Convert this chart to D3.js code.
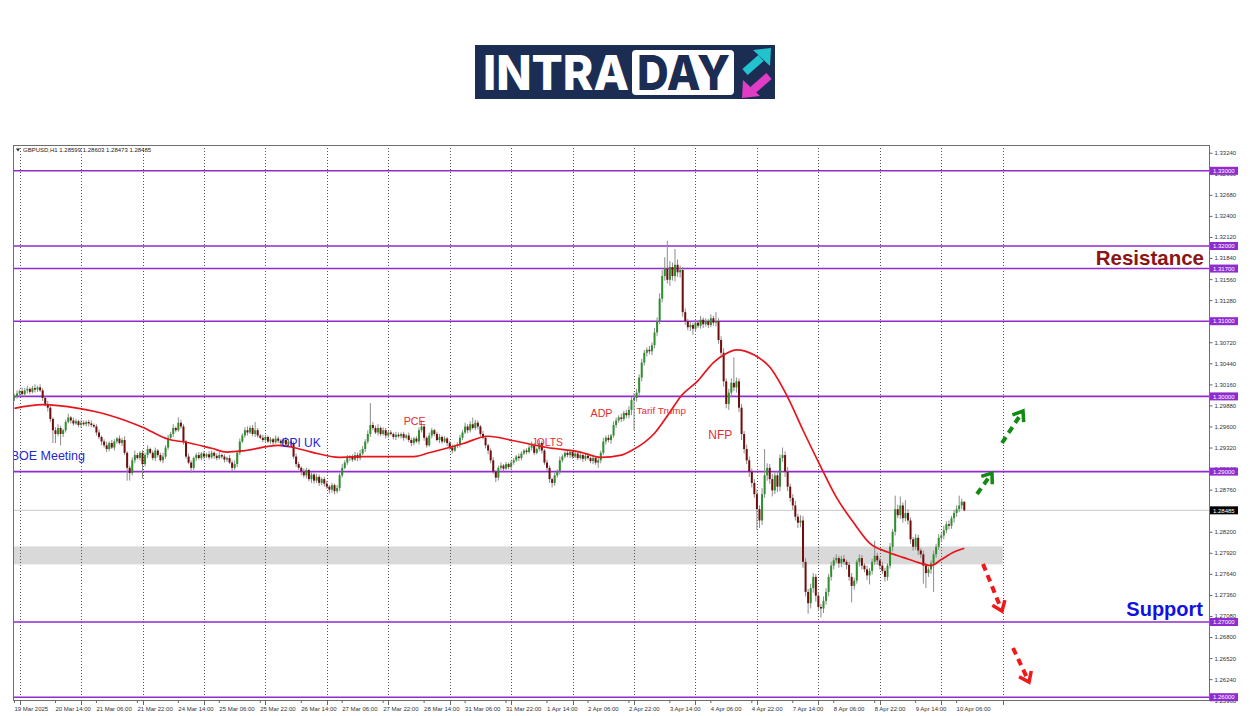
<!DOCTYPE html>
<html><head><meta charset="utf-8">
<script src="https://cdn.jsdelivr.net/npm/d3@7"></script>
<style>html,body{margin:0;padding:0;background:#fff;}svg{display:block;}</style>
</head><body>
<svg id="chart" width="1250" height="716"></svg>
<script>
// ---------------- DATA ----------------
const closes = [
1.3000,1.3004,1.3007,1.3003,1.3008,1.3010,1.3006,1.3011,1.3009,1.3012,1.3008,
1.2998,1.2990,1.2985,
1.2970,1.2955,1.2950,
1.2958,1.2950,1.2955,
1.2966,1.2972,1.2968,
1.2964,1.2967,1.2962,1.2965,1.2963,1.2966,1.2964,1.2962,1.2960,
1.2952,1.2946,1.2940,
1.2935,1.2930,1.2938,1.2932,
1.2940,1.2944,1.2938,1.2942,
1.2925,1.2905,1.2898,
1.2915,1.2922,1.2918,1.2925,1.2910,
1.2922,1.2930,1.2925,1.2918,1.2928,1.2922,1.2915,1.2920,
1.2932,1.2945,1.2950,1.2958,1.2955,1.2965,1.2960,
1.2940,
1.2920,1.2912,1.2905,1.2918,
1.2922,1.2918,1.2924,1.2920,1.2923,1.2919,1.2925,1.2921,1.2918,1.2922,1.2920,1.2916,1.2918,
1.2912,1.2905,1.2910,
1.2925,1.2940,1.2948,
1.2955,1.2952,1.2958,1.2950,1.2955,1.2948,
1.2945,1.2942,1.2946,1.2940,1.2943,1.2939,1.2944,1.2941,
1.2938,1.2942,1.2936,1.2940,1.2938,
1.2920,1.2910,1.2905,
1.2900,1.2895,1.2902,1.2890,1.2896,1.2888,1.2893,1.2885,1.2890,1.2884,
1.2880,1.2876,1.2882,1.2874,1.2878,
1.2895,1.2905,1.2912,1.2918,
1.2920,1.2916,1.2922,1.2918,1.2924,
1.2930,1.2940,1.2950,1.2962,1.2958,
1.2952,1.2958,1.2950,1.2955,1.2948,1.2952,
1.2950,1.2946,1.2949,1.2947,1.2950,1.2945,1.2948,
1.2942,1.2938,1.2944,1.2940,
1.2955,1.2960,
1.2945,1.2935,
1.2948,1.2955,1.2950,1.2942,
1.2946,1.2940,1.2944,1.2938,
1.2932,1.2928,1.2934,1.2936,
1.2945,1.2952,1.2960,1.2955,1.2963,1.2958,1.2965,1.2960,
1.2950,1.2945,1.2935,1.2928,
1.2915,1.2900,1.2892,1.2905,
1.2908,1.2904,1.2910,1.2906,1.2912,
1.2915,1.2920,1.2918,1.2924,1.2928,1.2926,1.2932,
1.2935,1.2925,1.2930,1.2938,1.2928,
1.2912,1.2905,1.2890,1.2885,1.2895,1.2900,
1.2915,1.2920,1.2925,1.2922,1.2926,
1.2920,1.2924,1.2918,1.2922,1.2917,1.2921,1.2918,1.2914,1.2918,1.2912,1.2915,
1.2925,1.2940,1.2945,1.2942,1.2948,1.2962,1.2968,
1.2972,1.2970,1.2978,1.2975,1.2982,
1.2995,1.2998,1.3005,
1.3025,1.3045,
1.3058,1.3062,1.3060,1.3068,
1.3085,1.3100,
1.3130,1.3160,
1.3170,1.3155,1.3172,1.3160,1.3175,1.3165,1.3168,
1.3112,
1.3100,1.3092,1.3095,1.3090,
1.3098,1.3094,1.3102,1.3096,1.3100,1.3095,1.3104,1.3098,1.3100,
1.3075,1.3058,
1.3020,1.2990,
1.3005,1.3018,1.3012,1.3020,
1.2985,1.2950,
1.2930,1.2915,1.2900,1.2885,
1.2870,1.2850,1.2835,
1.2870,1.2895,1.2905,
1.2890,1.2875,1.2895,1.2880,
1.2918,1.2922,
1.2900,1.2880,
1.2865,1.2855,1.2840,1.2832,1.2835,
1.2780,
1.2740,1.2725,
1.2745,1.2760,1.2735,1.2720,
1.2718,1.2728,
1.2740,1.2760,1.2775,
1.2782,1.2785,1.2778,1.2784,1.2780,1.2776,
1.2760,1.2748,1.2755,
1.2780,1.2785,1.2775,1.2770,
1.2762,1.2768,
1.2780,1.2788,1.2782,1.2775,
1.2768,1.2760,1.2775,
1.2800,1.2820,
1.2850,1.2842,1.2855,
1.2838,1.2845,1.2835,
1.2810,1.2800,1.2812,
1.2795,1.2790,1.2775,
1.2765,1.2770,1.2778,
1.2790,1.2800,1.2812,
1.2815,1.2822,1.2830,1.2828,1.2838,1.2845,
1.2850,1.2855,1.2860,
1.28485
];
// upper / lower wick lengths in pips
const wickUp = [
3,4,2,5,3,4,2,3,5,2, 4,3,2,4,3,2,4,5,3,2,
3,5,2,4,3,2,4,3,2,3, 4,2,3,4,2,3,5,2,4,3,
2,4,3,5,2,3,4,6,3,2, 4,3,5,2,3,4,2,3,5,3,
4,3,5,2,7,4,3,2,4,3, 2,3,4,2,3,2,4,3,2,3,
4,2,3,2,4,3,5,3,4,3, 4,5,3,4,11,3,2,4,3,2,
3,2,4,3,2,3,4,2,3,2, 4,3,2,4,3,2,3,2,4,3,
2,3,4,2,3,2,4,3,5,3, 4,2,3,4,3,5,4,3,5,29,
4,3,5,2,4,3,2,3,2,4, 3,2,3,2,4,3,2,3,4,8,
3,2,4,3,2,3,4,2,3,2, 3,4,2,3,4,3,5,3,4,9,
4,3,2,4,3,2,3,4,2,3, 4,2,3,2,4,3,2,4,3,2,
3,4,5,3,2,4,3,2,4,3, 2,4,3,5,3,2,4,3,2,3,
2,3,2,4,3,2,3,2,4,3, 5,3,4,2,5,4,3,5,3,4,
5,4,6,5,4,5,4,3,5,4, 6,5,7,8,15,37,8,6,21,7,
6,4,5,3,4,3,4,3,5,3, 4,3,5,3,12,4,5,6,4,5,
6,34,5,4,5,4,6,5,4,5, 6,5,8,35,6,5,7,5,6,5,
10,5,6,4,5,6,4,7,6,5, 4,6,5,4,5,4,6,5,4,5,
4,5,3,4,5,3,4,5,4,3, 5,4,3,5,4,4,20,4,3,5,
4,3,5,4,18,6,12,4,17,5, 4,3,5,4,3,5,4,3,4,5,
4,5,3,6,4,5,3,4,5,13,4,0
];
const wickDn = [
4,3,5,2,3,4,3,2,4,3, 2,4,3,5,4,17,12,3,15,4,
3,2,4,3,2,3,4,2,3,4, 3,2,4,3,5,3,4,3,2,4,
3,2,4,3,17,10,3,4,2,3, 19,3,4,2,3,4,3,2,4,3,
3,2,4,3,2,3,4,3,2,7, 3,4,2,3,4,2,3,2,4,3,
2,3,4,3,2,5,3,4,3,2, 3,4,2,3,4,3,2,3,4,2,
3,4,2,3,4,3,2,3,4,3, 4,3,5,3,4,3,5,4,3,4,
3,4,3,5,4,4,3,4,3,2, 3,4,3,2,4,3,2,4,3,4,
3,2,4,3,2,4,3,2,3,4, 2,3,4,2,3,4,3,2,4,3,
4,3,2,4,3,2,4,3,2,4, 3,4,2,3,4,3,2,4,3,2,
3,4,3,2,4,5,4,3,6,4, 3,4,2,3,4,3,2,4,3,2,
3,2,4,3,2,3,4,3,4,5, 6,4,3,4,3,2,3,4,3,2,
3,2,4,3,2,3,4,3,7,4, 3,4,3,5,3,4,3,4,3,4,
4,7,40,5,4,5,4,5,4,5, 4,5,4,5,6,5,8,6,7,6,
7,6,5,4,5,8,4,3,4,5, 3,4,3,4,5,5,6,7,6,8,
6,5,7,6,8,6,5,7,6,5, 28,10,6,5,7,6,8,5,7,6,
5,7,6,5,6,5,7,6,8,6, 14,7,6,8,5,12,6,5,6,5,
5,4,6,5,4,6,5,22,5,4, 6,5,4,6,12,5,4,6,5,4,
6,5,4,6,5,4,5,6,4,5, 6,5,4,6,5,24,20,5,6,38,
5,4,6,5,4,5,4,6,5,4,5,0
];
const firstOpen = 1.2998;
const lastOHLC = [1.28599, 1.28603, 1.28473, 1.28485];

// moving average (red line) read at sample bars
const maBars = [0,11,25,37,50,60,67,77,83,90,103,109,116,127,136,156,162,175,185,195,208,221,229,237,241,250,256,260,267,273,278,282,289,295,302,308,315,321,328,334,341,347,354,358,362,367,371];
const maValues = [1.2984,1.2989,1.2984,1.2975,1.2959,1.2943,1.2939,1.2931,1.2926,1.2928,1.2935,1.2932,1.2926,1.2919,1.2920,1.2920,1.2925,1.2937,1.2947,1.2941,1.2932,1.2926,1.2919,1.2922,1.2928,1.2951,1.2979,1.2999,1.3021,1.3045,1.3057,1.3062,1.3055,1.3039,1.2999,1.2955,1.2906,1.2866,1.2831,1.2805,1.2793,1.2786,1.2778,1.2775,1.2783,1.2793,1.2798];

const levels = [1.33, 1.32, 1.317, 1.31, 1.30, 1.29, 1.27, 1.26];
const levelLabels = ["1.33000","1.32000","1.31700","1.31000","1.30000","1.29000","1.27000","1.26000"];
const currentPrice = 1.28485;
const zoneLow = 1.27766, zoneHigh = 1.28005;

const timeLabels = ["19 Mar 2025","20 Mar 14:00","21 Mar 06:00","21 Mar 22:00","24 Mar 14:00","25 Mar 06:00","25 Mar 22:00","26 Mar 14:00","27 Mar 06:00","27 Mar 22:00","28 Mar 14:00","31 Mar 06:00","31 Mar 22:00","1 Apr 14:00","2 Apr 06:00","2 Apr 22:00","3 Apr 14:00","4 Apr 06:00","4 Apr 22:00","7 Apr 14:00","8 Apr 06:00","8 Apr 22:00","9 Apr 14:00","10 Apr 06:00"];
const yTicks = [1.33240,1.32960,1.32680,1.32400,1.32120,1.31840,1.31560,1.31280,1.31000,1.30720,1.30440,1.30160,1.29880,1.29600,1.29320,1.29040,1.28760,1.28480,1.28200,1.27920,1.27640,1.27360,1.27080,1.26800,1.26520,1.26240,1.25960];

const eventNames = ["BOE Meeting","CPI UK","PCE","JOLTS","ADP","Tarif Trump","NFP"];
const eventBars = [-1.5, 104, 152, 202, 225, 243, 271];
const eventPrices = [1.2915, 1.2933, 1.2962, 1.2934, 1.2973, 1.2976, 1.2943];
const eventColors = ["#2626d6","#2626d6","#e62e2e","#e62e2e","#e62e2e","#e62e2e","#e62e2e"];
const eventSizes = [12.5, 12, 10.7, 10.3, 10.7, 9.9, 12];

// ---------------- LAYOUT ----------------
const svg = d3.select("#chart");
const L = 13, R = 1209, T = 145, B = 700;
const N = closes.length;
const x = d3.scaleLinear().domain([0, 371]).range([14.5, 964.3]);
const y = d3.scaleLinear().domain([1.26, 1.33]).range([697.2, 170.8]);
const pip = 0.0001;

svg.append("rect").attr("width",1250).attr("height",716).attr("fill","#fff");

// ---------- logo ----------
const lg = svg.append("g");
lg.append("rect").attr("x",475).attr("y",45).attr("width",300).attr("height",54).attr("fill","#1b2d53");
lg.append("text").attr("x",483).attr("y",90).text("INTRA")
  .attr("fill","#fff").attr("font-family","Inter, 'Liberation Sans', sans-serif").attr("font-weight",800)
  .attr("font-size",48).attr("textLength",146).attr("lengthAdjust","spacingAndGlyphs");
lg.append("rect").attr("x",632).attr("y",50).attr("width",102).attr("height",45).attr("rx",4).attr("fill","#fff");
lg.append("text").attr("x",637).attr("y",90).text("DAY")
  .attr("fill","#1b2d53").attr("font-family","Inter, 'Liberation Sans', sans-serif").attr("font-weight",800)
  .attr("font-size",48).attr("textLength",93).attr("lengthAdjust","spacingAndGlyphs");
lg.append("line").attr("x1",745).attr("y1",72).attr("x2",761).attr("y2",58).attr("stroke","#22c3cf").attr("stroke-width",8);
lg.append("path").attr("d","M771,48 L770,66 L753,50 Z").attr("fill","#22c3cf");
lg.append("line").attr("x1",769).attr("y1",76).attr("x2",753).attr("y2",90).attr("stroke","#e03cc6").attr("stroke-width",8);
lg.append("path").attr("d","M742,98 L743,80 L760,96 Z").attr("fill","#e03cc6");

// ---------- plot area ----------
svg.append("defs").append("clipPath").attr("id","plotclip")
  .append("rect").attr("x",L).attr("y",T).attr("width",R-L).attr("height",B-T);
const plot = svg.append("g").attr("clip-path","url(#plotclip)");

// support zone
plot.append("rect").attr("x",L).attr("y",y(zoneHigh)).attr("width",x(386)-L).attr("height",y(zoneLow)-y(zoneHigh)).attr("fill","#d9d9d9");

// vertical dotted grid
const gridBars = d3.range(2, 400, 24);
plot.selectAll("line.vg").data(gridBars).join("line").attr("class","vg")
  .attr("x1",d=>Math.round(x(d))+0.5).attr("x2",d=>Math.round(x(d))+0.5).attr("y1",T).attr("y2",B)
  .attr("stroke","#555").attr("stroke-width",1).attr("stroke-dasharray","1,2");

// current price line
plot.append("line").attr("x1",L).attr("x2",R).attr("y1",y(currentPrice)).attr("y2",y(currentPrice)).attr("stroke","#c8c8c8").attr("stroke-width",1);

// level lines
plot.selectAll("line.lvl").data(levels).join("line").attr("class","lvl")
  .attr("x1",L).attr("x2",R).attr("y1",d=>y(d)).attr("y2",d=>y(d))
  .attr("stroke","#8f2bcf").attr("stroke-width",1.6);

// candles
const candles = closes.map((c,i)=>{
  let o = i===0 ? firstOpen : closes[i-1];
  let h = Math.max(o,c) + (wickUp[i]||0)*pip;
  let l = Math.min(o,c) - (wickDn[i]||0)*pip;
  if (i===N-1) { o = lastOHLC[0]; h = lastOHLC[1]; l = lastOHLC[2]; c = lastOHLC[3]; }
  return {i,o,h,l,c};
});
const cg = plot.append("g");
cg.selectAll("line.wick").data(candles).join("line").attr("class","wick")
  .attr("x1",d=>x(d.i)).attr("x2",d=>x(d.i)).attr("y1",d=>y(d.h)).attr("y2",d=>y(d.l))
  .attr("stroke","#8c8c8c").attr("stroke-width",1);
cg.selectAll("rect.body").data(candles).join("rect").attr("class","body")
  .attr("x",d=>x(d.i)-1).attr("width",2)
  .attr("y",d=>y(Math.max(d.o,d.c)))
  .attr("height",d=>Math.max(1, Math.abs(y(d.o)-y(d.c))))
  .attr("fill",d=>d.c>=d.o ? "#2e8f2e" : "#720d0d");

// moving average
const maPts = maBars.map((b,k)=>[b, maValues[k]]);
plot.append("path").datum(maPts)
  .attr("d", d3.line().x(d=>x(d[0])).y(d=>y(d[1])).curve(d3.curveMonotoneX))
  .attr("fill","none").attr("stroke","#e8141c").attr("stroke-width",1.7);

// event labels
eventNames.forEach((t,k)=>{
  plot.append("text").attr("x",x(eventBars[k])).attr("y",y(eventPrices[k])).text(t)
    .attr("fill",eventColors[k]).attr("font-family","'Liberation Sans', Arial, sans-serif")
    .attr("font-size",eventSizes[k]);
});

// arrows
function arrow(x1,y1,x2,y2,color){
  const g = svg.append("g");
  const dx = x2-x1, dy = y2-y1, len = Math.hypot(dx,dy), ux = dx/len, uy = dy/len;
  g.append("line").attr("x1",x1).attr("y1",y1).attr("x2",x2-ux*5).attr("y2",y2-uy*5)
    .attr("stroke",color).attr("stroke-width",4).attr("stroke-dasharray","7,5");
  const hl = 9, px = -uy, py = ux;
  const bx = x2-ux*hl, by = y2-uy*hl;
  g.append("path").attr("d",`M${bx+px*hl*0.75},${by+py*hl*0.75} L${x2},${y2} L${bx-px*hl*0.75},${by-py*hl*0.75}`)
    .attr("fill","none").attr("stroke",color).attr("stroke-width",3.5).attr("stroke-linejoin","miter");
}
arrow(977,494,992,473,"#138a13");
arrow(1002,443,1023,411,"#138a13");
arrow(983,564,1002,611,"#f01818");
arrow(1013,648,1029,682,"#f01818");

// Resistance / Support
svg.append("text").attr("x",1204).attr("y",265).attr("text-anchor","end").text("Resistance")
  .attr("fill","#8b1414").attr("font-family","'Liberation Sans', Arial, sans-serif").attr("font-weight","bold").attr("font-size",20.5);
svg.append("text").attr("x",1203).attr("y",616).attr("text-anchor","end").text("Support")
  .attr("fill","#1111e6").attr("font-family","'Liberation Sans', Arial, sans-serif").attr("font-weight","bold").attr("font-size",20);

// frame
svg.append("rect").attr("x",L+0.5).attr("y",T+0.5).attr("width",R-L).attr("height",B-T)
  .attr("fill","none").attr("stroke","#6e6e6e").attr("stroke-width",1);

// header
svg.append("path").attr("d","M16,148.5 L20,148.5 L18,151.5 Z").attr("fill","#222");
svg.append("text").attr("x",23).attr("y",152).text("GBPUSD,H1  1.28599 1.28603 1.28473 1.28485")
  .attr("font-family","'Liberation Sans', Arial, sans-serif").attr("font-size",6).attr("fill","#222");

// right axis
const yAxis = d3.axisRight(y).tickValues(yTicks).tickFormat(d3.format(".5f")).tickSize(3).tickPadding(2);
const ya = svg.append("g").attr("transform",`translate(${R+0.5},0)`).call(yAxis);
ya.select(".domain").remove();
ya.selectAll("text").attr("font-family","'Liberation Sans', Arial, sans-serif").attr("font-size",6).attr("fill","#333");
ya.selectAll("line").attr("stroke","#666");

// level labels
const lab = svg.append("g");
levels.forEach((v,k)=>{
  lab.append("rect").attr("x",R+1).attr("y",y(v)-4).attr("width",28).attr("height",8).attr("fill","#8f2bcf");
  lab.append("text").attr("x",R+4).attr("y",y(v)+2.2).text(levelLabels[k]).attr("fill","#fff")
    .attr("font-family","'Liberation Sans', Arial, sans-serif").attr("font-size",6);
});
lab.append("rect").attr("x",R+1).attr("y",y(currentPrice)-4).attr("width",28).attr("height",8).attr("fill","#000");
lab.append("text").attr("x",R+4).attr("y",y(currentPrice)+2.2).text("1.28485").attr("fill","#fff")
  .attr("font-family","'Liberation Sans', Arial, sans-serif").attr("font-size",6);

// bottom axis
const labelBars = timeLabels.map((t,k)=>k*16);
const xa = svg.append("g");
xa.selectAll("line.lt").data(labelBars).join("line").attr("class","lt")
  .attr("x1",d=>x(d)).attr("x2",d=>x(d)).attr("y1",B).attr("y2",B+3).attr("stroke","#666");
xa.selectAll("line.gt").data(gridBars.filter(b=>x(b)<R)).join("line").attr("class","gt")
  .attr("x1",d=>Math.round(x(d))+0.5).attr("x2",d=>Math.round(x(d))+0.5).attr("y1",B).attr("y2",B+5).attr("stroke","#666");
xa.selectAll("text").data(timeLabels).join("text")
  .attr("x",(d,k)=>x(labelBars[k])).attr("y",711).text(d=>d)
  .attr("font-family","'Liberation Sans', Arial, sans-serif").attr("font-size",6).attr("fill","#333");
</script>
</body></html>
